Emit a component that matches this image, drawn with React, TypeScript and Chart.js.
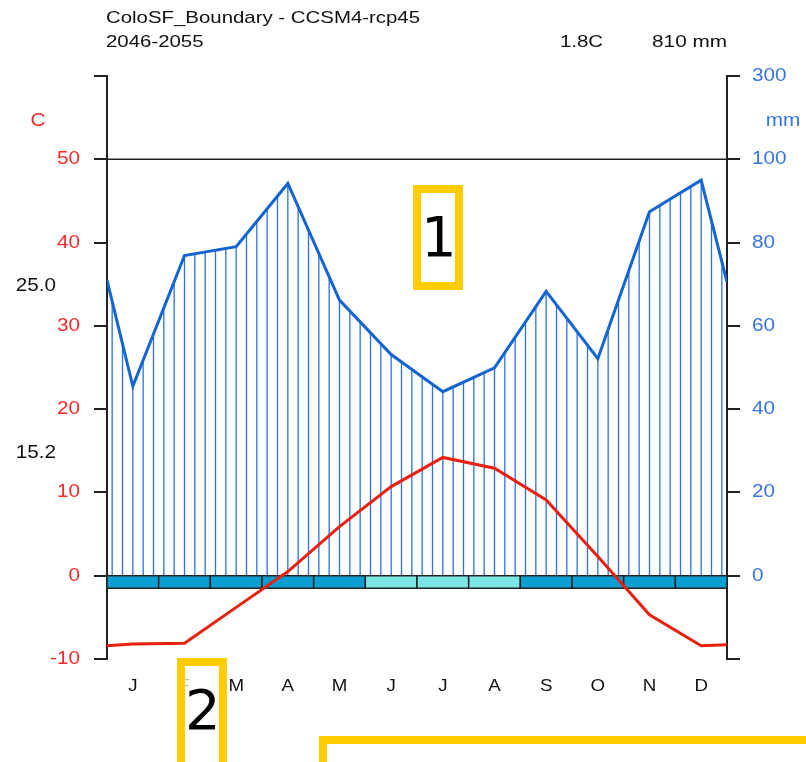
import React, { useEffect, useRef } from "react";
import { Chart, registerables } from "chart.js";

Chart.register(...registerables);

// ---------- data ----------
const months = ["J", "F", "M", "A", "M", "J", "J", "A", "S", "O", "N", "D"];
const precipitation = [45.5, 76.9, 79.0, 94.2, 66.2, 53.1, 44.2, 49.9, 68.3, 52.1, 87.4, 95.0]; // mm
const temperature = [-8.2, -8.1, -3.8, 0.5, 5.9, 10.7, 14.2, 12.9, 9.1, 2.3, -4.7, -8.4]; // C
const precipEdges = [71.0, 70.5]; // mm at the year's start / end
const tempEdges = [-8.4, -8.3]; // C at the year's start / end
const frostType = ["sure", "sure", "sure", "sure", "sure", "probable", "probable", "probable", "sure", "sure", "sure", "sure"];
const tempTicks = [-10, 0, 10, 20, 30, 40, 50];
const precipTicks = [0, 20, 40, 60, 80, 100, 300];
const titleText = "ColoSF_Boundary - CCSM4-rcp45";
const periodText = "2046-2055";
const meanTempText = "1.8C";
const annualPrecipText = "810 mm";
const maxTempLabel = "25.0";
const minTempLabel = "15.2";

// ---------- styles ----------
const FONT = '"Liberation Sans", Arial, sans-serif';
const AXIS = "#222222";
const RED_TEXT = "#f42a2a";
const BLUE_TEXT = "#3574e2";
const RED_LINE = "#e8200e";
const BLUE_LINE = "#1464d2";
const HATCH = "#2a72e4";
const FROST_SURE = "#0a9fd2";
const FROST_PROB = "#7ae6e6";
const YELLOW = "#ffcc00";

// Walter-Lieth precipitation scale: 2 mm per degree up to 100 mm, then 20 mm per degree
const toScale = (p: number) => (p <= 100 ? p / 2 : 50 + (p - 100) / 20);

function drawText(
  ctx: CanvasRenderingContext2D,
  text: string,
  x: number,
  y: number,
  size: number,
  color: string,
  align: CanvasTextAlign,
  sx: number
) {
  ctx.save();
  ctx.font = `${size}px ${FONT}`;
  ctx.fillStyle = color;
  ctx.textAlign = align;
  ctx.textBaseline = "middle";
  ctx.translate(x, y);
  ctx.scale(sx, 1);
  ctx.fillText(text, 0, 0);
  ctx.restore();
}

const walterPlugin = {
  id: "walter",
  beforeDatasetsDraw(chart: any) {
    const { ctx, chartArea, scales } = chart;
    const xs = scales.x;
    const ys = scales.y;
    const y0 = ys.getPixelForValue(0);
    const pts = chart.getDatasetMeta(1).data;

    // hatch under the precipitation curve
    ctx.save();
    ctx.beginPath();
    ctx.moveTo(pts[0].x, y0);
    pts.forEach((p: any) => ctx.lineTo(p.x, p.y));
    ctx.lineTo(pts[pts.length - 1].x, y0);
    ctx.closePath();
    ctx.clip();
    ctx.strokeStyle = HATCH;
    ctx.lineWidth = 1.3;
    const n = months.length * 5;
    for (let j = 0; j < n; j++) {
      const px = xs.getPixelForValue((j + 0.5) / 5);
      ctx.beginPath();
      ctx.moveTo(px, y0);
      ctx.lineTo(px, chartArea.top);
      ctx.stroke();
    }
    ctx.restore();

    // reference lines at 0 and 50 C (0 / 100 mm)
    ctx.save();
    ctx.strokeStyle = AXIS;
    ctx.lineWidth = 1.5;
    [0, 50].forEach((v) => {
      const py = Math.round(ys.getPixelForValue(v)) + 0.25;
      ctx.beginPath();
      ctx.moveTo(chartArea.left - 13, py);
      ctx.lineTo(chartArea.right + 13, py);
      ctx.stroke();
    });

    // frost band
    const bandH = 12.5;
    months.forEach((_, i) => {
      const a = xs.getPixelForValue(i);
      const b = xs.getPixelForValue(i + 1);
      ctx.fillStyle = frostType[i] === "sure" ? FROST_SURE : FROST_PROB;
      ctx.fillRect(a, y0, b - a, bandH);
      ctx.strokeStyle = AXIS;
      ctx.lineWidth = 1.5;
      ctx.strokeRect(a, y0, b - a, bandH);
    });
    ctx.restore();
  },
  afterDraw(chart: any) {
    const { ctx, chartArea, scales } = chart;
    const xs = scales.x;
    const ys = scales.y;
    // titles
    drawText(ctx, titleText, 106, 18, 17, "#111", "left", 1.2);
    drawText(ctx, periodText, 106, 42, 17, "#111", "left", 1.2);
    drawText(ctx, meanTempText, 603, 42, 17, "#111", "right", 1.2);
    drawText(ctx, annualPrecipText, 727, 42, 17, "#111", "right", 1.22);
    // left axis labels
    tempTicks.forEach((v) => {
      drawText(ctx, String(v), chartArea.left - 27, ys.getPixelForValue(v), 18, RED_TEXT, "right", 1.15);
    });
    drawText(ctx, "C", 38, 121, 18, RED_TEXT, "center", 1.15);
    // right axis labels
    precipTicks.forEach((p) => {
      drawText(ctx, String(p), chartArea.right + 25, ys.getPixelForValue(toScale(p)), 18, BLUE_TEXT, "left", 1.15);
    });
    drawText(ctx, "mm", 783, 121, 18, BLUE_TEXT, "center", 1.15);
    // extremes
    drawText(ctx, maxTempLabel, 56, ys.getPixelForValue(35) + 2, 18, "#111", "right", 1.15);
    drawText(ctx, minTempLabel, 56, ys.getPixelForValue(15) + 2, 18, "#111", "right", 1.15);
    // months
    months.forEach((m, i) => {
      drawText(ctx, m, xs.getPixelForValue(i + 0.5), 686, 17, "#111", "center", 1.1);
    });
  },
};

export default function App() {
  const ref = useRef<HTMLCanvasElement | null>(null);

  useEffect(() => {
    if (!ref.current) return;
    const tempData = [
      { x: 0, y: tempEdges[0] },
      ...temperature.map((t, i) => ({ x: i + 0.5, y: t })),
      { x: months.length, y: tempEdges[1] },
    ];
    const precData = [
      { x: 0, y: toScale(precipEdges[0]) },
      ...precipitation.map((p, i) => ({ x: i + 0.5, y: toScale(p) })),
      { x: months.length, y: toScale(precipEdges[1]) },
    ];
    const chart = new Chart(ref.current, {
      type: "line",
      data: {
        datasets: [
          {
            label: "Temperature",
            data: tempData,
            borderColor: RED_LINE,
            borderWidth: 3,
            pointRadius: 0,
            tension: 0,
            yAxisID: "y",
          },
          {
            label: "Precipitation",
            data: precData,
            borderColor: BLUE_LINE,
            borderWidth: 3,
            pointRadius: 0,
            tension: 0,
            yAxisID: "y",
          },
        ],
      },
      options: {
        responsive: false,
        maintainAspectRatio: false,
        animation: false,
        devicePixelRatio: 1,
        layout: { padding: { top: 76, bottom: 103, left: 0, right: 0 } },
        plugins: { legend: { display: false }, tooltip: { enabled: false } },
        scales: {
          x: { type: "linear", min: 0, max: months.length, display: false },
          y: {
            type: "linear",
            position: "left",
            min: -10,
            max: 60,
            ticks: { stepSize: 10, display: false },
            grid: { drawOnChartArea: false, drawTicks: true, tickLength: 13, color: AXIS, lineWidth: 2 },
            border: { display: true, color: AXIS, width: 2 },
            afterFit: (s: any) => {
              s.width = 107;
            },
          },
          y2: {
            type: "linear",
            position: "right",
            min: -10,
            max: 60,
            ticks: { stepSize: 10, display: false },
            grid: { drawOnChartArea: false, drawTicks: true, tickLength: 13, color: AXIS, lineWidth: 2 },
            border: { display: true, color: AXIS, width: 2 },
            afterFit: (s: any) => {
              s.width = 79;
            },
          },
        },
      },
      plugins: [walterPlugin],
    });
    return () => chart.destroy();
  }, []);

  const box = (l: number, t: number, w: number, h: number): React.CSSProperties => ({
    position: "absolute",
    left: l,
    top: t,
    width: w,
    height: h,
    border: `8px solid ${YELLOW}`,
    boxSizing: "border-box",
  });
  const num: React.CSSProperties = {
    position: "absolute",
    fontFamily: '"DejaVu Sans", sans-serif',
    fontSize: 56,
    color: "#000",
    lineHeight: "56px",
  };

  return (
    <div style={{ position: "fixed", left: 0, top: 0, width: 806, height: 762, overflow: "hidden", background: "#fff" }}>
      <canvas ref={ref} width={806} height={762} style={{ display: "block" }} />
      <div style={{ ...box(413, 185, 50, 105), background: "#fff" }} />
      <div style={{ ...num, left: 421, top: 209, width: 34, textAlign: "center" }}>1</div>
      <div style={{ ...box(177, 658, 50, 120), background: "rgba(255,255,255,0.75)" }} />
      <div style={{ ...num, left: 185, top: 682, width: 34, textAlign: "center" }}>2</div>
      <div style={box(319, 736, 600, 100)} />
    </div>
  );
}
